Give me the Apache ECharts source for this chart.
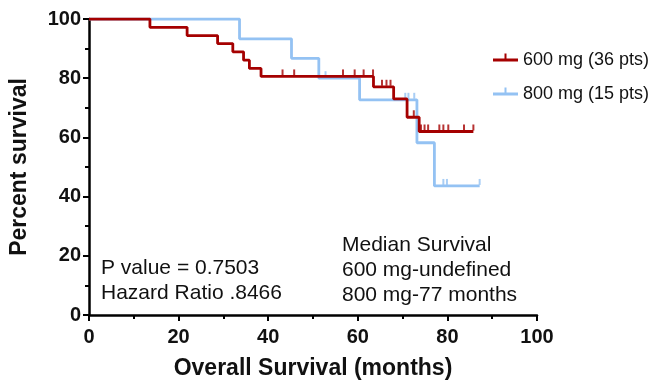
<!DOCTYPE html>
<html>
<head>
<meta charset="utf-8">
<script src="https://cdn.jsdelivr.net/npm/echarts@6/dist/echarts.min.js"></script>
<style>
html,body{margin:0;padding:0;background:#fff;}
#chart{width:654px;height:385px;}
</style>
</head>
<body>
<div id="chart"></div>
<script>
// Kaplan-Meier steps: [month, percent survival]
var steps600 = [[0,100],[13.6,97.2],[21.9,94.4],[28.7,91.7],[32.1,88.9],[34.5,86.1],[35.8,83.3],[38.4,80.6],[63.5,77.1],[68.0,73.0],[71.0,66.8],[73.7,62.0],[85.8,62.0]];
var censor600 = [[43.2,80.6],[45.8,80.6],[56.7,80.6],[59.3,80.6],[61.3,80.6],[63.4,80.6],[65.4,77.1],[66.4,77.1],[67.3,77.1],[72.5,66.8],[74.1,62.0],[74.9,62.0],[75.7,62.0],[78.2,62.0],[79.1,62.0],[80.2,62.0],[83.7,62.0],[85.8,62.0]];
var steps800 = [[0,100],[33.6,93.3],[45.2,86.7],[51.3,80.0],[60.4,72.7],[73.2,58.2],[77.1,43.6],[87.2,43.6]];
var censor800 = [[52.8,80.0],[70.6,72.7],[71.3,72.7],[72.6,72.7],[79.1,43.6],[79.9,43.6],[87.2,43.6]];
var seriesNames = ['600 mg (36 pts)', '800 mg (15 pts)'];
var xTicks = [0, 20, 40, 60, 80, 100];
var yTicks = [0, 20, 40, 60, 80, 100];
var annotLeft = ['P value = 0.7503', 'Hazard Ratio .8466'];
var annotRight = ['Median Survival', '600 mg-undefined', '800 mg-77 months'];

var RED = '#A50000', BLUE = '#94C2F3';
var FONT = '"Liberation Sans", Arial, Helvetica, sans-serif';

var chart = echarts.init(document.getElementById('chart'), null, {renderer:'canvas'});
var legendIcon = 'path://M0,7 L25,7 L25,10 L0,10 Z M11.5,2 L13.5,2 L13.5,7 L11.5,7 Z M12.5,15';

var graphics = [];
annotLeft.forEach(function(t, i){
  graphics.push({type:'text', left:101, top: 269 + i*25 - 11, style:{text:t, font:'21px ' + FONT, fill:'#111'}});
});
annotRight.forEach(function(t, i){
  graphics.push({type:'text', left:342, top: 245.5 + i*25 - 11, style:{text:t, font:'21px ' + FONT, fill:'#111'}});
});

chart.setOption({
  animation:false,
  backgroundColor:'#fff',
  grid:{left:87, right:117, top:19, bottom:67, containLabel:false},
  legend:{
    orient:'vertical', left:488, top:46, itemGap:16,
    itemWidth:25, itemHeight:13, selectedMode:false,
    textStyle:{fontFamily:FONT, fontSize:18, color:'#111'},
    data:[{name:seriesNames[0], icon:legendIcon, itemStyle:{color:RED}},
          {name:seriesNames[1], icon:legendIcon, itemStyle:{color:BLUE}}]
  },
  xAxis:{
    type:'value', min:xTicks[0], max:xTicks[xTicks.length-1], interval:20,
    name:'Overall Survival (months)', nameLocation:'middle', nameGap:42,
    nameTextStyle:{fontFamily:FONT, fontSize:23, fontWeight:'bold', color:'#111'},
    axisLine:{show:true, onZero:false, lineStyle:{color:'#000', width:2.5}},
    axisTick:{show:true, length:6, lineStyle:{color:'#000', width:2}},
    minorTick:{show:true, splitNumber:2, length:4, lineStyle:{color:'#000', width:2}},
    axisLabel:{margin:12, fontFamily:FONT, fontSize:20, fontWeight:'bold', color:'#111'},
    splitLine:{show:false}
  },
  yAxis:{
    type:'value', min:yTicks[0], max:yTicks[yTicks.length-1], interval:20,
    name:'Percent survival', nameLocation:'middle', nameGap:58,
    nameTextStyle:{fontFamily:FONT, fontSize:23, fontWeight:'bold', color:'#111'},
    axisLine:{show:true, onZero:false, lineStyle:{color:'#000', width:2.5}},
    axisTick:{show:true, length:6, lineStyle:{color:'#000', width:2}},
    minorTick:{show:true, splitNumber:2, length:4, lineStyle:{color:'#000', width:2}},
    axisLabel:{margin:8, fontFamily:FONT, fontSize:20, fontWeight:'bold', color:'#111'},
    splitLine:{show:false}
  },
  graphic:graphics,
  series:[
    {name:seriesNames[1], type:'line', step:'end', data:steps800, showSymbol:false, symbol:'none',
     lineStyle:{color:BLUE, width:2.8}, itemStyle:{color:BLUE}, z:2},
    {name:seriesNames[0], type:'line', step:'end', data:steps600, showSymbol:false, symbol:'none',
     lineStyle:{color:RED, width:2.8}, itemStyle:{color:RED}, z:3},
    {name:'c800', type:'scatter', data:censor800, symbol:'rect', symbolSize:[2,6], symbolOffset:[0,-4],
     itemStyle:{color:BLUE}, z:2, silent:true},
    {name:'c600', type:'scatter', data:censor600, symbol:'rect', symbolSize:[2,6], symbolOffset:[0,-4],
     itemStyle:{color:RED}, z:3, silent:true}
  ]
});
</script>
</body>
</html>
